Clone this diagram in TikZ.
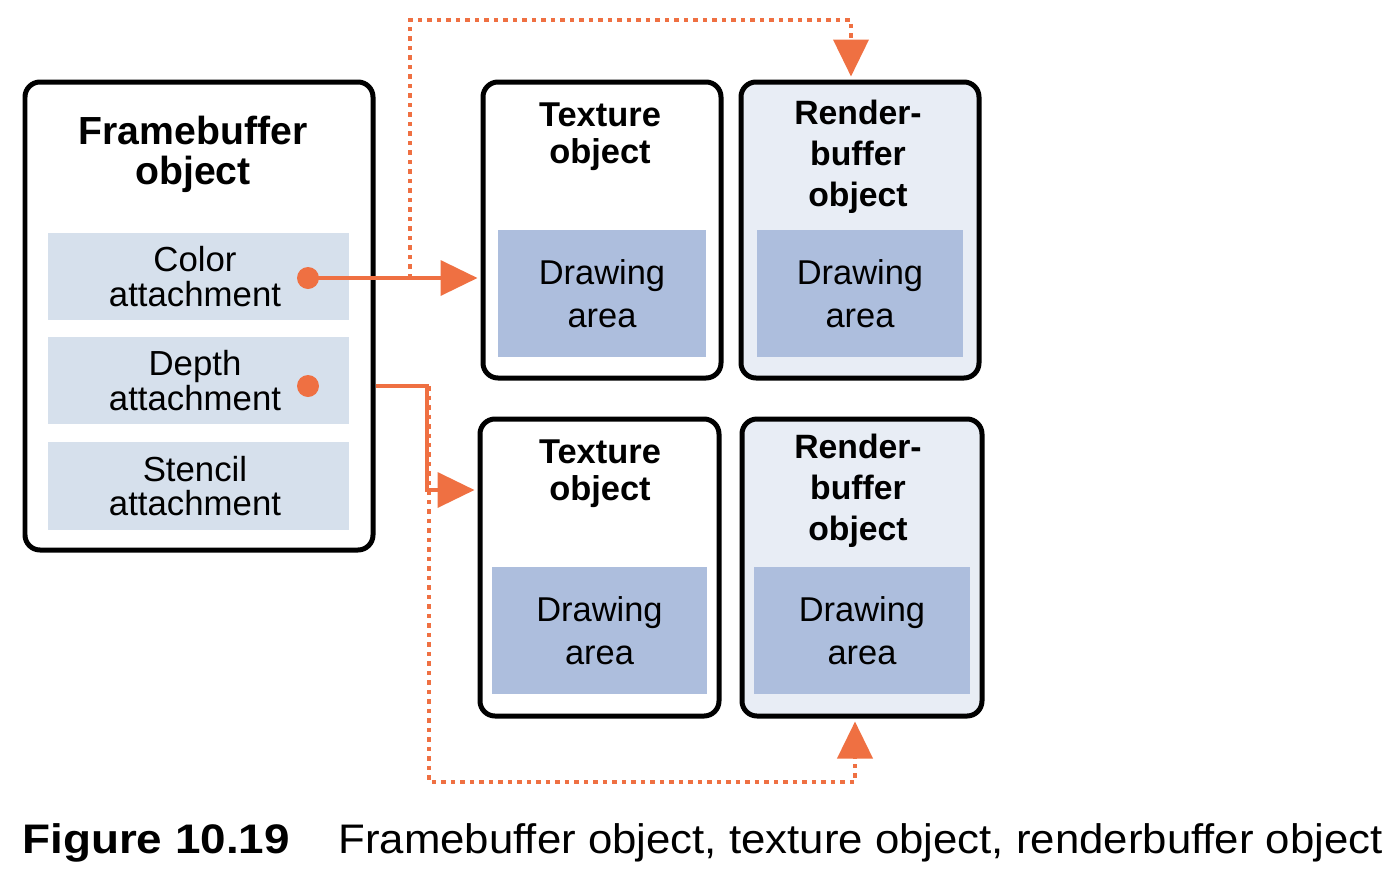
\documentclass[tikz,border=0pt]{standalone}
\usepackage{fontspec}
\setmainfont{Liberation Sans}
\newfontfamily\capfont[FakeStretch=1.06]{Liberation Sans}
\newfontfamily\capboldfont[FakeStretch=1.11]{Liberation Sans Bold}
\usetikzlibrary{arrows.meta,calc}
\definecolor{accent}{RGB}{239,112,66}
\definecolor{attachfill}{RGB}{214,224,236}
\definecolor{areafill}{RGB}{173,190,221}
\definecolor{renderfill}{RGB}{232,237,245}
\begin{document}
\begin{tikzpicture}[x=0.02cm,y=-0.02cm,
  objbox/.style={draw=black, line width=0.1cm, rounded corners=0.3cm, inner sep=0pt},
  attach/.style={fill=attachfill, minimum width=301*0.02cm, minimum height=87*0.02cm, inner sep=0pt, align=center, font=\fontsize{19.8}{19.8}\selectfont},
  area/.style={fill=areafill, minimum height=127*0.02cm, inner sep=0pt, align=center, font=\fontsize{19.6}{24.4}\selectfont},
  titleA/.style={align=center, inner sep=0pt, font=\bfseries\fontsize{22.3}{22.7}\selectfont},
  titleB/.style={align=center, inner sep=0pt, font=\bfseries\fontsize{19.6}{21}\selectfont},
  titleC/.style={align=center, inner sep=0pt, font=\bfseries\fontsize{19.2}{23.3}\selectfont},
  tip/.style={-{Triangle[length=0.74cm,width=0.7cm]}},
  conn/.style={draw=accent, line width=0.075cm, tip, shorten >=0.06cm},
  dotline/.style={draw=accent, line width=0.08cm, dash pattern=on 0.09cm off 0.1cm, tip, shorten >=0.06cm},
  dot/.style={circle, fill=accent, minimum size=0.44cm, inner sep=0pt}]
\useasboundingbox (0,0) rectangle (1400,873);

% framebuffer object
\node[objbox, fill=white, minimum width=348*0.02cm, minimum height=468*0.02cm] (fb) at (199,316) {};
\node[titleA] (fbt) at (193,154) {Framebuffer\\object};
\node[attach] (ca) at (198.5,276.5) {\hspace*{-4pt}Color\\\hspace*{-4pt}attachment};
\node[attach] (da) at (198.5,380.5) {\hspace*{-4pt}Depth\\\hspace*{-4pt}attachment};
\node[attach, minimum height=88*0.02cm] (sa) at (198.5,486) {\hspace*{-4pt}Stencil\\\hspace*{-4pt}attachment};
\node[dot] (cdot) at (308,278) {};
\node[dot] (ddot) at (308,386) {};

% top row
\node[objbox, fill=white, minimum width=238*0.02cm, minimum height=296*0.02cm] (ttop) at (602,230) {};
\node[titleB] (ttopt) at (600,136.5) {Texture\\object};
\node[area, minimum width=208*0.02cm] (tta) at (602,293.5) {Drawing\\area};
\node[objbox, fill=renderfill, minimum width=238*0.02cm, minimum height=296*0.02cm] (rtop) at (860,230) {};
\node[titleC] (rtopt) at (858,157) {Render-\\buffer\\object};
\node[area, minimum width=206*0.02cm] (rta) at (860,293.5) {Drawing\\area};

% bottom row
\node[objbox, fill=white, minimum width=239*0.02cm, minimum height=297*0.02cm] (tbot) at (599.5,567.5) {};
\node[titleB] (tbott) at (600,473.5) {Texture\\object};
\node[area, minimum width=215*0.02cm] (tba) at (599.5,630.5) {Drawing\\area};
\node[objbox, fill=renderfill, minimum width=240*0.02cm, minimum height=297*0.02cm] (rbot) at (862,567.5) {};
\node[titleC] (rbott) at (858,491) {Render-\\buffer\\object};
\node[area, minimum width=216*0.02cm] (rba) at (862,630.5) {Drawing\\area};

% connectors
\coordinate (ctap) at (410,278);
\coordinate (ctop) at (851,20);
\coordinate (dj) at (427,490);
\coordinate (dbot) at (855,782);
\draw[dotline] (ctap) |- (ctop) -- (ctop |- rtop.north);
\draw[dotline] ($(ddot -| dj)+(2,0)$) |- (dbot) -- (dbot |- rbot.south);
\draw[conn] (cdot.center) -- (cdot -| ttop.west);
\draw[conn] (ddot -| fb.east) -| (dj) -- (dj -| tbot.west);

% caption
\node[anchor=base west, inner sep=0pt, font=\capboldfont\fontsize{23.5}{28}\selectfont] (fig) at (22,853) {Figure 10.19};
\node[anchor=base west, inner sep=0pt, font=\capfont\fontsize{23.5}{28}\selectfont] (cap) at (338,853) {Framebuffer object, texture object, renderbuffer object};
\end{tikzpicture}
\end{document}
